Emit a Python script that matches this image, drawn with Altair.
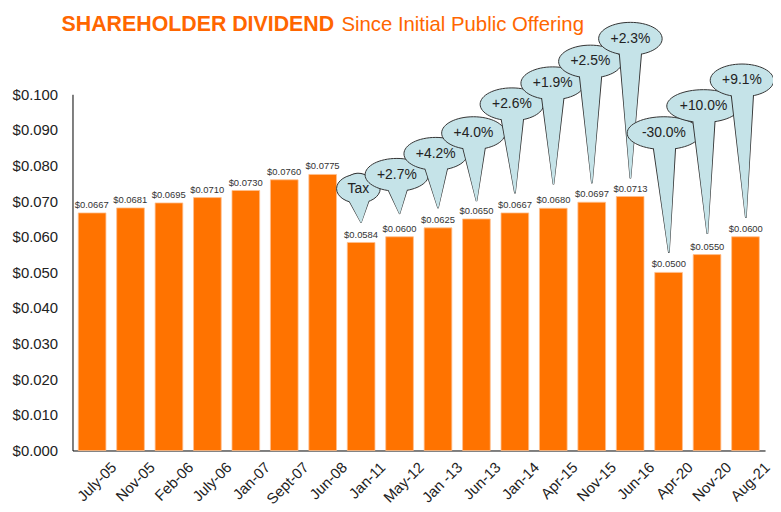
import altair as alt
import pandas as pd

# ---- data ----
dates = ["July-05", "Nov-05", "Feb-06", "July-06", "Jan-07", "Sept-07", "Jun-08",
         "Jan-11", "May-12", "Jan -13", "Jun-13", "Jan-14", "Apr-15", "Nov-15",
         "Jun-16", "Apr-20", "Nov-20", "Aug-21"]
dividends = [0.0667, 0.0681, 0.0695, 0.0710, 0.0730, 0.0760, 0.0775,
             0.0584, 0.0600, 0.0625, 0.0650, 0.0667, 0.0680, 0.0697,
             0.0713, 0.0500, 0.0550, 0.0600]

callout_text = ["Tax", "+2.7%", "+4.2%", "+4.0%", "+2.6%", "+1.9%", "+2.5%",
                "+2.3%", "-30.0%", "+10.0%", "+9.1%"]
callout_bar = [7, 8, 9, 10, 11, 12, 13, 14, 15, 16, 17]
callout_level = [0.0735, 0.0774, 0.0833, 0.0891, 0.0972, 0.1031, 0.1092,
                 0.1156, 0.0891, 0.0967, 0.1039]
callout_tip = [0.0641, 0.0666, 0.0682, 0.0702, 0.0724, 0.0749, 0.0752,
               0.0766, 0.0557, 0.0610, 0.0655]
callout_shift = [-0.07, -0.07, -0.06, -0.08, -0.08, -0.02, -0.04, 0.0,
                 -0.13, -0.10, -0.10]

y_ticks = [0.0, 0.01, 0.02, 0.03, 0.04, 0.05, 0.06, 0.07, 0.08, 0.09, 0.10]
title_bold = "SHAREHOLDER DIVIDEND"
title_rest = "Since Initial Public Offering"

# ---- layout / style ----
W, H = 698, 359
YMAX = 0.1
PX = H / YMAX
FONT = "Liberation Sans"
ORANGE = "#FF7300"
BUBBLE = "#C5E3E8"
INK = "#333333"
TAIL_BASE = 21      # tail width (px) where it leaves the bubble

df = pd.DataFrame({"date": dates, "value": dividends})

band = alt.Scale(paddingInner=0.28, paddingOuter=0.15)
yscale = alt.Scale(domain=[0, YMAX], nice=False)

bars = alt.Chart(df).mark_bar(color=ORANGE, stroke="#FFC08F", strokeWidth=0.8).encode(
    x=alt.X("date:N", sort=None, scale=band,
            axis=alt.Axis(title=None, labelAngle=-45, labelFontSize=15, labelColor="#222",
                          labelFont=FONT, ticks=False, domainColor="#000",
                          labelOffset=17, labelPadding=9, labelAlign="right",
                          labelBaseline="top")),
    y=alt.Y("value:Q", scale=yscale,
            axis=alt.Axis(title=None, values=y_ticks, format="$.3f", labelFontSize=15,
                          labelFont=FONT, labelColor="#222", ticks=False, grid=False,
                          domainColor="#000", labelPadding=15)),
)

labels = alt.Chart(df).mark_text(fontSize=9.5, dy=-5, baseline="alphabetic",
                                 color=INK, font=FONT).encode(
    x=alt.X("date:N", sort=None, scale=band, axis=None),
    y=alt.Y("value:Q", scale=yscale, axis=None),
    text=alt.Text("value:Q", format="$.4f"),
)


def ellipse_path(ry):
    c = 0.5523
    return (f"M-1,0C-1,{-c*ry:.4f} {-c:.4f},{-ry:.4f} 0,{-ry:.4f}"
            f"C{c:.4f},{-ry:.4f} 1,{-c*ry:.4f} 1,0"
            f"C1,{c*ry:.4f} {c:.4f},{ry:.4f} 0,{ry:.4f}"
            f"C{-c:.4f},{ry:.4f} -1,{c*ry:.4f} -1,0Z")


tail_rows, bub_rows = [], []
for k, (t, b, lv, tp, sh) in enumerate(zip(callout_text, callout_bar, callout_level,
                                           callout_tip, callout_shift)):
    w = 10 * len(t) + 14
    h = min(33, 0.66 * w)
    L = (lv - tp) * PX
    w0 = min(30, TAIL_BASE * L / max(L - h / 2, 1))
    tail_rows.append(dict(id=k, ord=0, xi=b + sh, y=lv, w=w0, w2=w0 + 2.2))
    tail_rows.append(dict(id=k, ord=1, xi=b, y=tp, w=0, w2=1.8))
    bub_rows.append(dict(id=k, xi=b + sh, y=lv, shape=ellipse_path(h / w), size=w * w, text=t))

tails = pd.DataFrame(tail_rows)
bubs = pd.DataFrame(bub_rows)

xq = alt.X("xi:Q", scale=alt.Scale(domain=[-0.5, len(dates) - 0.5], nice=False, zero=False), axis=None)
yq = alt.Y("y:Q", scale=yscale, axis=None)

callout_layers = []
for k in range(len(callout_text)):
    tdat = alt.Chart(tails).transform_filter(alt.datum.id == k)
    bdat = alt.Chart(bubs).transform_filter(alt.datum.id == k)
    dark = tdat.mark_trail(color=INK, opacity=1).encode(
        x=xq, y=yq, order=alt.Order("ord:Q"), size=alt.Size("w2:Q", scale=None))
    ell = bdat.mark_point(filled=True, fill=BUBBLE, stroke=INK, strokeWidth=1,
                          opacity=1, fillOpacity=1, strokeOpacity=1).encode(
        x=xq, y=yq, shape=alt.Shape("shape:N", scale=None), size=alt.Size("size:Q", scale=None))
    light = tdat.mark_trail(color=BUBBLE, opacity=1).encode(
        x=xq, y=yq, order=alt.Order("ord:Q"), size=alt.Size("w:Q", scale=None))
    txt = bdat.mark_text(fontSize=14, color="#222", font=FONT).encode(x=xq, y=yq, text="text:N")
    callout_layers += [dark, ell, light, txt]

t1 = alt.Chart(pd.DataFrame({"t": [title_bold]})).mark_text(
    align="left", baseline="alphabetic", fontSize=21.5, fontWeight="bold",
    color="#FF6600", font=FONT).encode(x=alt.value(-11), y=alt.value(-64), text="t:N")
t2 = alt.Chart(pd.DataFrame({"t": [title_rest]})).mark_text(
    align="left", baseline="alphabetic", fontSize=20.5,
    color="#FF6600", font=FONT).encode(x=alt.value(271), y=alt.value(-64), text="t:N")

chart = alt.layer(bars, labels, *callout_layers, t1, t2).resolve_scale(
    x="independent", y="independent"
).properties(
    width=W, height=H,
    autosize=alt.AutoSizeParams(type="none"),
    padding={"left": 65, "top": 85, "right": 8, "bottom": 58},
).configure_view(stroke=None)

chart.save("out.html", embed_options={"renderer": "svg", "actions": False})
